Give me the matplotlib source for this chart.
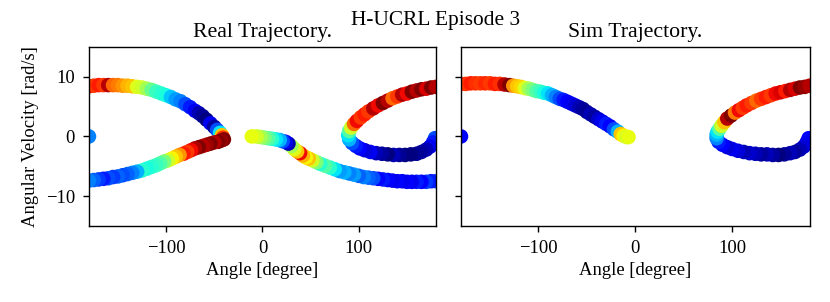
import matplotlib
matplotlib.use("Agg")
import matplotlib.pyplot as plt
import numpy as np

plt.rcParams['font.family'] = ['Liberation Serif', 'DejaVu Serif']
plt.rcParams['axes.linewidth'] = 1.0
for ax_name in ('xtick', 'ytick'):
    plt.rcParams[f'{ax_name}.major.size'] = 4.5
    plt.rcParams[f'{ax_name}.major.width'] = 1.0
    plt.rcParams[f'{ax_name}.major.pad'] = 5.5

# ---------------- Real trajectory (angle [deg], angular velocity [rad/s], colour value) -------------
real_angle = [
    -180,
    179, 177, 174, 170, 165, 160, 154, 148, 142, 136, 130, 124, 118, 112, 106, 101, 97, 93, 90, 89,
    90, 92, 95, 98, 102, 106, 110, 115, 120, 125, 130, 135, 140, 145, 150, 155, 160, 165, 170, 175, 180,
    -180, -175, -170, -165, -160, -155, -150, -145, -140, -135, -130, -125, -120, -115, -110, -105,
    -100, -95, -90, -85, -80, -75, -70, -66, -62, -58, -54, -50, -47, -44, -42, -41,
    -40, -43, -46, -50, -54, -58, -62, -66, -70, -74, -78, -82, -86, -90, -94, -98, -102, -106,
    -110, -115, -120, -125, -130, -135, -140, -145, -150, -155, -160, -165, -170, -175, -180,
    180, 175, 170, 165, 160, 155, 150, 145, 140, 135, 130, 125, 120, 115, 110, 105, 100, 95, 90,
    85, 80, 75, 70, 65, 60, 56, 52, 48, 45, 42, 39, 36, 33, 30, 27, 24, 21, 18, 14, 10, 6, 2,
    -2, -6, -11,
]
real_velocity = [
    0.0,
    -0.3, -1.0, -1.7, -2.2, -2.6, -2.9, -3.0, -3.1, -3.1, -3.1, -3.0, -2.9, -2.8, -2.6, -2.3, -2.0,
    -1.6, -1.1, -0.5, 0.2,
    0.9, 1.5, 2.1, 2.6, 3.2, 3.7, 4.2, 4.7, 5.2, 5.6, 6.0, 6.4, 6.7, 7.0, 7.2, 7.5, 7.7, 7.9, 8.0,
    8.2, 8.3,
    8.4, 8.5, 8.6, 8.6, 8.6, 8.6, 8.6, 8.5, 8.5, 8.4, 8.3, 8.2, 8.0, 7.8, 7.5, 7.2,
    6.9, 6.6, 6.2, 5.9, 5.4, 4.9, 4.3, 3.9, 3.4, 2.8, 2.2, 1.6, 1.1, 0.6, 0.2, -0.2,
    -0.5, -0.7, -0.9, -1.0, -1.2, -1.4, -1.6, -1.8, -2.0, -2.3, -2.6, -2.9, -3.1, -3.4, -3.7,
    -4.0, -4.2, -4.5,
    -4.8, -5.1, -5.4, -5.7, -5.9, -6.1, -6.3, -6.5, -6.7, -6.8, -7.0, -7.1, -7.2, -7.3, -7.4,
    -7.5, -7.5, -7.6, -7.6, -7.6, -7.6, -7.6, -7.5, -7.5, -7.4, -7.3, -7.2, -7.1, -7.0, -6.9,
    -6.8, -6.6, -6.4, -6.2,
    -6.0, -5.8, -5.5, -5.2, -4.9, -4.6, -4.3, -4.0, -3.7, -3.5, -3.2, -2.8, -2.5, -2.1, -1.6,
    -1.2, -0.9, -0.8, -0.6, -0.5, -0.4, -0.3, -0.2,
    -0.1, 0.0, 0.0,
]
real_color = [
    0.25,
    0.2, 0.15, 0.1, 0.05, 0.03, 0.02, 0.0, 0.0, 0.02, 0.05, 0.0, 0.03, 0.05, 0.1, 0.08, 0.12, 0.15,
    0.2, 0.3, 0.35,
    0.45, 0.6, 0.8, 0.9, 0.85, 0.88, 0.85, 0.95, 0.9, 1.0, 0.95, 0.8, 0.85, 0.95, 0.9, 1.0, 0.95,
    1.0, 0.92, 1.0, 0.95,
    0.9, 0.85, 0.88, 0.85, 0.95, 0.8, 0.78, 0.75, 0.72, 0.7, 0.62, 0.6, 0.55, 0.48, 0.42, 0.4,
    0.38, 0.32, 0.28, 0.25, 0.2, 0.15, 0.1, 0.05, 0.02, 0.0, 0.1, 0.03, 0.2, 0.35, 0.7, 0.85,
    1.0, 0.98, 1.0, 0.95, 1.0, 0.97, 0.95, 1.0, 0.96, 0.9, 0.85, 0.88, 0.75, 0.7, 0.65, 0.6,
    0.5, 0.45,
    0.42, 0.4, 0.38, 0.4, 0.3, 0.25, 0.22, 0.2, 0.22, 0.18, 0.2, 0.15, 0.18, 0.22, 0.25,
    0.2, 0.15, 0.18, 0.12, 0.15, 0.1, 0.12, 0.1, 0.13, 0.1, 0.12, 0.15, 0.13, 0.2, 0.22, 0.25,
    0.22, 0.28, 0.25,
    0.3, 0.28, 0.35, 0.4, 0.45, 0.4, 0.5, 0.6, 0.7, 0.65, 0.72, 0.9, 0.7, 0.62, 0.55, 0.05,
    0.1, 0.2, 0.3, 0.35, 0.4, 0.45, 0.5,
    0.55, 0.6, 0.63,
]

# ---------------- Sim trajectory -------------
sim_angle = [
    -180,
    179, 177, 174, 170, 165, 160, 154, 148, 142, 136, 130, 124, 118, 112, 106, 100, 95, 90, 86, 84,
    84, 85, 87, 89, 92, 95, 99, 103, 107, 111, 115, 120, 125, 130, 135, 140, 145, 150, 155, 160,
    165, 170, 175, 180,
    -180, -175, -170, -165, -160, -155, -150, -145, -140, -135, -130, -126, -122, -118, -114,
    -110, -106, -102, -98, -94, -90, -86, -82, -78, -74, -70, -66, -62, -58, -54, -50, -46, -42,
    -38, -34, -30, -26, -22, -18, -15, -12, -9, -7,
]
sim_velocity = [
    0.0,
    -0.3, -1.0, -1.7, -2.2, -2.6, -2.8, -3.0, -3.1, -3.1, -3.0, -3.0, -2.9, -2.8, -2.6, -2.4, -2.1,
    -1.8, -1.4, -0.9, -0.3,
    0.3, 0.8, 1.3, 1.8, 2.4, 3.0, 3.5, 4.0, 4.4, 4.8, 5.2, 5.6, 6.0, 6.3, 6.6, 6.9, 7.2, 7.4, 7.6,
    7.8, 8.0, 8.2, 8.3, 8.5,
    8.8, 8.8, 8.9, 8.9, 8.9, 8.9, 8.9, 8.8, 8.8, 8.7, 8.6, 8.5, 8.4, 8.3, 8.1,
    8.0, 7.8, 7.6, 7.5, 7.3, 7.2, 6.9, 6.6, 6.3, 6.1, 5.8, 5.5, 5.2, 4.9, 4.6, 4.1, 3.7, 3.3,
    2.9, 2.5, 2.1, 1.7, 1.2, 0.8, 0.4, 0.1, -0.1, -0.1,
]
sim_color = [
    0.12,
    0.12, 0.1, 0.08, 0.05, 0.03, 0.05, 0.02, 0.0, 0.03, 0.05, 0.03, 0.05, 0.07, 0.05, 0.08, 0.1,
    0.08, 0.12, 0.15, 0.25,
    0.3, 0.35, 0.45, 0.6, 0.7, 0.95, 1.0, 0.78, 0.9, 0.85, 0.88, 0.85, 0.8, 0.85, 0.88, 0.85,
    0.9, 0.92, 0.88, 0.95, 0.92, 1.0, 0.98, 0.95,
    0.87, 0.85, 0.88, 0.86, 0.85, 0.87, 0.85, 0.88, 0.86, 0.95, 1.0, 0.75, 0.7, 0.68, 0.62,
    0.55, 0.5, 0.45, 0.42, 0.38, 0.35, 0.3, 0.25, 0.2, 0.15, 0.12, 0.1, 0.08, 0.05, 0.03, 0.02,
    0.05, 0.03, 0.07, 0.1, 0.15, 0.12, 0.2, 0.3, 0.7, 0.65, 0.6, 0.63,
]

x_ticks = [-100, 0, 100]
y_ticks = [-10, 0, 10]

fig = plt.figure(figsize=(8.3, 3.02), dpi=100)
ax1 = fig.add_axes([0.1072, 0.2517, 0.418, 0.593])
ax2 = fig.add_axes([0.5554, 0.2517, 0.420, 0.593], sharey=ax1)

for ax, a, v, c, title in [(ax1, real_angle, real_velocity, real_color, "Real Trajectory."),
                           (ax2, sim_angle, sim_velocity, sim_color, "Sim Trajectory.")]:
    ax.scatter(a, v, c=c, cmap='jet', vmin=0, vmax=1, s=110, linewidths=0)
    ax.set_xlim(-180, 180)
    ax.set_ylim(-15, 15)
    ax.set_xticks(x_ticks)
    ax.set_yticks(y_ticks)
    ax.set_title(title, fontsize=15.7, pad=7)
    ax.set_xlabel("Angle [degree]", fontsize=13.4, labelpad=4)
    ax.tick_params(labelsize=13.4)

ax1.set_ylabel("Angular Velocity [rad/s]", fontsize=13.4, labelpad=5)
plt.setp(ax2.get_yticklabels(), visible=False)
fig.suptitle("H-UCRL Episode 3", fontsize=15.4, x=0.525, y=0.965)

fig.savefig("out.png", dpi=100)
